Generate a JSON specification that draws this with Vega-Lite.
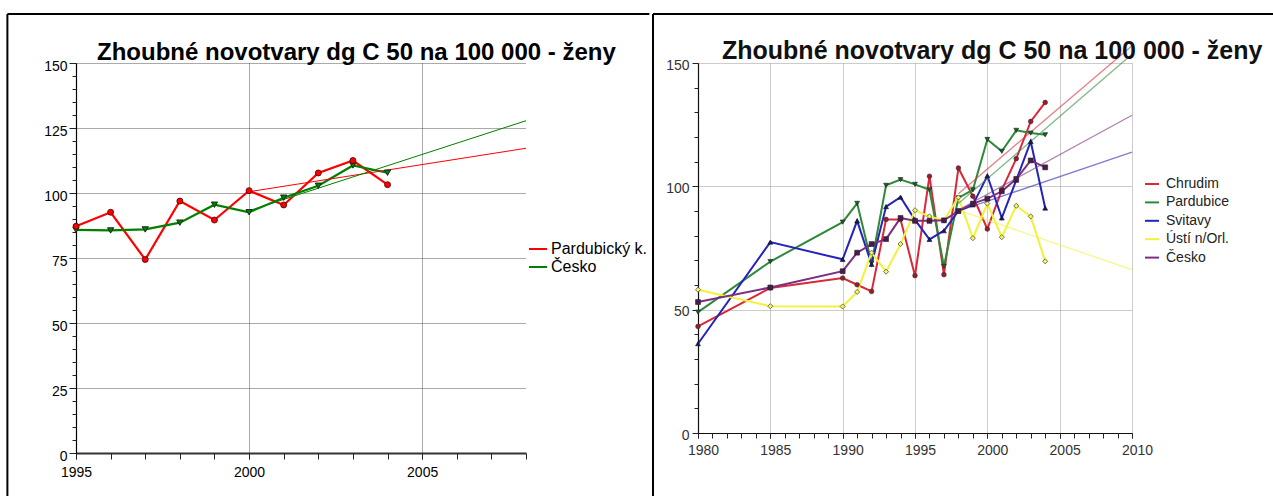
{
  "$schema": "https://vega.github.io/schema/vega-lite/v6.json",
  "background": "white",
  "padding": {"left": 6, "top": 12, "right": 0, "bottom": 0},
  "spacing": 0,
  "resolve": {"scale": {"color": "independent", "shape": "independent"}, "legend": {"color": "independent", "shape": "independent"}},
  "config": {
    "font": "Liberation Sans",
    "view": {"stroke": null},
    "axis": {"labelFont": "Liberation Sans", "labelOverlap": false},
    "legend": {"labelFont": "Liberation Sans"}
  },
  "datasets": {
    "one": [{"k": 1}],
    "left": [
      {"year": 1995, "series": "Pardubický k.", "value": 87.2},
      {"year": 1996, "series": "Pardubický k.", "value": 92.6},
      {"year": 1997, "series": "Pardubický k.", "value": 74.4},
      {"year": 1998, "series": "Pardubický k.", "value": 96.9},
      {"year": 1999, "series": "Pardubický k.", "value": 89.6},
      {"year": 2000, "series": "Pardubický k.", "value": 100.9},
      {"year": 2001, "series": "Pardubický k.", "value": 95.4},
      {"year": 2002, "series": "Pardubický k.", "value": 107.7},
      {"year": 2003, "series": "Pardubický k.", "value": 112.5},
      {"year": 2004, "series": "Pardubický k.", "value": 103.2},
      {"year": 1995, "series": "Česko", "value": 85.8},
      {"year": 1996, "series": "Česko", "value": 85.6},
      {"year": 1997, "series": "Česko", "value": 86.0},
      {"year": 1998, "series": "Česko", "value": 88.6},
      {"year": 1999, "series": "Česko", "value": 95.5},
      {"year": 2000, "series": "Česko", "value": 92.6},
      {"year": 2001, "series": "Česko", "value": 98.2},
      {"year": 2002, "series": "Česko", "value": 102.8},
      {"year": 2003, "series": "Česko", "value": 110.6},
      {"year": 2004, "series": "Česko", "value": 107.8}
    ],
    "left_trend": [
      {"year": 2000, "series": "Pardubický k.", "value": 100.5},
      {"year": 2008, "series": "Pardubický k.", "value": 117.2},
      {"year": 2000, "series": "Česko", "value": 93.2},
      {"year": 2008, "series": "Česko", "value": 127.8}
    ],
    "right": [
      {"year": 1980, "series": "Chrudim", "value": 43.2},
      {"year": 1985, "series": "Chrudim", "value": 58.8},
      {"year": 1990, "series": "Chrudim", "value": 62.8},
      {"year": 1991, "series": "Chrudim", "value": 60.1},
      {"year": 1992, "series": "Chrudim", "value": 57.4},
      {"year": 1993, "series": "Chrudim", "value": 86.6},
      {"year": 1994, "series": "Chrudim", "value": 86.6},
      {"year": 1995, "series": "Chrudim", "value": 63.8},
      {"year": 1996, "series": "Chrudim", "value": 104.1},
      {"year": 1997, "series": "Chrudim", "value": 64.2},
      {"year": 1998, "series": "Chrudim", "value": 107.4},
      {"year": 1999, "series": "Chrudim", "value": 96.0},
      {"year": 2000, "series": "Chrudim", "value": 82.7},
      {"year": 2001, "series": "Chrudim", "value": 98.6},
      {"year": 2002, "series": "Chrudim", "value": 111.2},
      {"year": 2003, "series": "Chrudim", "value": 126.3},
      {"year": 2004, "series": "Chrudim", "value": 134.0},
      {"year": 1980, "series": "Pardubice", "value": 49.0},
      {"year": 1985, "series": "Pardubice", "value": 69.5},
      {"year": 1990, "series": "Pardubice", "value": 85.5},
      {"year": 1991, "series": "Pardubice", "value": 93.1},
      {"year": 1992, "series": "Pardubice", "value": 68.9},
      {"year": 1993, "series": "Pardubice", "value": 100.4},
      {"year": 1994, "series": "Pardubice", "value": 102.7},
      {"year": 1995, "series": "Pardubice", "value": 100.8},
      {"year": 1996, "series": "Pardubice", "value": 98.6},
      {"year": 1997, "series": "Pardubice", "value": 67.6},
      {"year": 1998, "series": "Pardubice", "value": 95.3},
      {"year": 1999, "series": "Pardubice", "value": 98.6},
      {"year": 2000, "series": "Pardubice", "value": 119.0},
      {"year": 2001, "series": "Pardubice", "value": 114.2},
      {"year": 2002, "series": "Pardubice", "value": 122.7},
      {"year": 2003, "series": "Pardubice", "value": 121.6},
      {"year": 2004, "series": "Pardubice", "value": 120.9},
      {"year": 1980, "series": "Svitavy", "value": 36.2},
      {"year": 1985, "series": "Svitavy", "value": 77.4},
      {"year": 1990, "series": "Svitavy", "value": 70.4},
      {"year": 1991, "series": "Svitavy", "value": 86.0},
      {"year": 1992, "series": "Svitavy", "value": 68.4},
      {"year": 1993, "series": "Svitavy", "value": 91.8},
      {"year": 1994, "series": "Svitavy", "value": 95.6},
      {"year": 1995, "series": "Svitavy", "value": 86.4},
      {"year": 1996, "series": "Svitavy", "value": 78.5},
      {"year": 1997, "series": "Svitavy", "value": 82.0},
      {"year": 1998, "series": "Svitavy", "value": 90.0},
      {"year": 1999, "series": "Svitavy", "value": 92.5},
      {"year": 2000, "series": "Svitavy", "value": 104.3},
      {"year": 2001, "series": "Svitavy", "value": 87.2},
      {"year": 2002, "series": "Svitavy", "value": 102.5},
      {"year": 2003, "series": "Svitavy", "value": 118.2},
      {"year": 2004, "series": "Svitavy", "value": 91.2},
      {"year": 1980, "series": "Ústí n/Orl.", "value": 58.1},
      {"year": 1985, "series": "Ústí n/Orl.", "value": 51.4},
      {"year": 1990, "series": "Ústí n/Orl.", "value": 51.3},
      {"year": 1991, "series": "Ústí n/Orl.", "value": 57.2},
      {"year": 1992, "series": "Ústí n/Orl.", "value": 73.1},
      {"year": 1993, "series": "Ústí n/Orl.", "value": 65.4},
      {"year": 1994, "series": "Ústí n/Orl.", "value": 76.6},
      {"year": 1995, "series": "Ústí n/Orl.", "value": 90.3},
      {"year": 1996, "series": "Ústí n/Orl.", "value": 87.8},
      {"year": 1997, "series": "Ústí n/Orl.", "value": 86.2},
      {"year": 1998, "series": "Ústí n/Orl.", "value": 95.5},
      {"year": 1999, "series": "Ústí n/Orl.", "value": 79.0},
      {"year": 2000, "series": "Ústí n/Orl.", "value": 93.0},
      {"year": 2001, "series": "Ústí n/Orl.", "value": 79.4},
      {"year": 2002, "series": "Ústí n/Orl.", "value": 92.1},
      {"year": 2003, "series": "Ústí n/Orl.", "value": 87.8},
      {"year": 2004, "series": "Ústí n/Orl.", "value": 69.6},
      {"year": 1980, "series": "Česko", "value": 53.1},
      {"year": 1985, "series": "Česko", "value": 59.0},
      {"year": 1990, "series": "Česko", "value": 65.6},
      {"year": 1991, "series": "Česko", "value": 73.1},
      {"year": 1992, "series": "Česko", "value": 76.6},
      {"year": 1993, "series": "Česko", "value": 78.6},
      {"year": 1994, "series": "Česko", "value": 87.2},
      {"year": 1995, "series": "Česko", "value": 86.0},
      {"year": 1996, "series": "Česko", "value": 86.0},
      {"year": 1997, "series": "Česko", "value": 86.2},
      {"year": 1998, "series": "Česko", "value": 90.0},
      {"year": 1999, "series": "Česko", "value": 93.0},
      {"year": 2000, "series": "Česko", "value": 95.0},
      {"year": 2001, "series": "Česko", "value": 98.0},
      {"year": 2002, "series": "Česko", "value": 103.0},
      {"year": 2003, "series": "Česko", "value": 110.5},
      {"year": 2004, "series": "Česko", "value": 107.7}
    ],
    "right_trend": [
      {"year": 1998, "series": "Chrudim", "value": 97.0},
      {"year": 2010, "series": "Chrudim", "value": 157.0},
      {"year": 1998, "series": "Pardubice", "value": 93.0},
      {"year": 2010, "series": "Pardubice", "value": 153.5},
      {"year": 1998, "series": "Svitavy", "value": 90.0},
      {"year": 2010, "series": "Svitavy", "value": 113.9},
      {"year": 1998, "series": "Ústí n/Orl.", "value": 90.4},
      {"year": 2010, "series": "Ústí n/Orl.", "value": 66.2},
      {"year": 1998, "series": "Česko", "value": 90.4},
      {"year": 2010, "series": "Česko", "value": 128.8}
    ]
  },
  "hconcat": [
    {
      "width": 450,
      "height": 390,
      "title": {"text": "Zhoubné novotvary dg C 50 na 100 000 - ženy", "frame": "group", "anchor": "start", "dx": 21, "dy": 71, "offset": 0, "baseline": "alphabetic", "fontSize": 24, "font": "Liberation Sans", "fontWeight": "bold", "color": "black"},
      "resolve": {"axis": {"x": "independent", "y": "independent"}},
      "layer": [
        {
          "data": {"name": "left"},
          "mark": {"type": "line", "strokeWidth": 2.2},
          "encoding": {
            "x": {"field": "year", "type": "quantitative", "scale": {"domain": [1995, 2008], "nice": false, "zero": false},
              "axis": {"title": null, "orient": "bottom", "values": [1995, 2000, 2005], "format": "d", "labelFlush": false,
                "grid": true, "gridColor": "#555555", "gridDash": [1, 1],
                "tickSize": 6, "tickColor": "#222", "domainColor": "#333", "domainWidth": 2, "labelFontSize": 14, "labelColor": "#000", "labelPadding": 6}},
            "y": {"field": "value", "type": "quantitative", "scale": {"domain": [0, 150], "nice": false},
              "axis": {"title": null, "orient": "left", "values": [0, 25, 50, 75, 100, 125, 150], "labelFlush": false,
                "grid": true, "gridColor": "#555555", "gridDash": [1, 1],
                "tickSize": 7, "tickColor": "#222",
                "domainColor": "#000", "domainWidth": 1.2, "labelFontSize": 14, "labelColor": "#000", "labelPadding": 2, "labelOffset": 3}},
            "color": {"field": "series", "type": "nominal", "scale": {"domain": ["Pardubický k.", "Česko"], "range": ["#ff0000", "#008000"]},
              "legend": {"orient": "none", "legendX": 452, "legendY": 176, "title": null, "symbolType": "stroke", "symbolSize": 324, "symbolStrokeWidth": 2,
                "labelFontSize": 16, "labelColor": "#000", "labelOffset": 3, "rowPadding": 0, "labelLimit": 300}}
          }
        },
        {
          "data": {"name": "left_trend"},
          "mark": {"type": "line", "strokeWidth": 1},
          "encoding": {
            "x": {"field": "year", "type": "quantitative",
              "axis": {"title": null, "orient": "bottom", "values": [1995, 1996, 1997, 1998, 1999, 2000, 2001, 2002, 2003, 2004, 2005, 2006, 2007, 2008],
                "labels": false, "grid": false, "domain": false, "tickSize": 6, "tickColor": "#222"}},
            "y": {"field": "value", "type": "quantitative",
              "axis": {"title": null, "orient": "left", "values": [5, 10, 15, 20, 30, 35, 40, 45, 55, 60, 65, 70, 80, 85, 90, 95, 105, 110, 115, 120, 130, 135, 140, 145],
                "labels": false, "grid": false, "domain": false, "tickSize": 4, "tickColor": "#222"}},
            "color": {"field": "series", "type": "nominal", "legend": null}
          }
        },
        {
          "data": {"name": "one"},
          "mark": {"type": "rule", "color": "black", "strokeWidth": 2, "clip": false},
          "encoding": {
            "x": {"datum": 1993.018, "type": "quantitative", "axis": null},
            "y": {"datum": 168.85, "type": "quantitative", "axis": null},
            "y2": {"datum": -16.54}
          }
        },
        {
          "data": {"name": "one"},
          "mark": {"type": "rule", "color": "black", "strokeWidth": 2, "clip": false},
          "encoding": {
            "x": {"datum": 1993.018, "type": "quantitative", "axis": null},
            "x2": {"datum": 2011.565},
            "y": {"datum": 168.85, "type": "quantitative", "axis": null}
          }
        },
        {
          "data": {"name": "left"},
          "transform": [{"filter": "datum.series === 'Česko'"}],
          "mark": {"type": "point", "shape": "triangle-down", "filled": true, "fill": "#008000", "stroke": "#111", "strokeWidth": 0.8, "opacity": 1, "size": 40},
          "encoding": {
            "x": {"field": "year", "type": "quantitative", "axis": null},
            "y": {"field": "value", "type": "quantitative", "axis": null}
          }
        },
        {
          "data": {"name": "left"},
          "transform": [{"filter": "datum.series === 'Pardubický k.'"}],
          "mark": {"type": "point", "shape": "circle", "filled": true, "fill": "#ff0000", "stroke": "#440000", "strokeWidth": 0.8, "opacity": 1, "size": 36},
          "encoding": {
            "x": {"field": "year", "type": "quantitative", "axis": null},
            "y": {"field": "value", "type": "quantitative", "axis": null}
          }
        }
      ]
    },
    {
      "width": 434,
      "height": 370,
      "title": {"text": "Zhoubné novotvary dg C 50 na 100 000 - ženy", "frame": "group", "anchor": "start", "dx": 24, "dy": 71, "offset": 0, "baseline": "alphabetic", "fontSize": 25, "font": "Liberation Sans", "fontWeight": "bold", "color": "#111"},
      "resolve": {"axis": {"x": "independent", "y": "independent"}},
      "layer": [
        {
          "data": {"name": "right"},
          "mark": {"type": "line", "strokeWidth": 2},
          "encoding": {
            "x": {"field": "year", "type": "quantitative", "scale": {"domain": [1980, 2010], "nice": false, "zero": false},
              "axis": {"title": null, "orient": "bottom", "values": [1980, 1985, 1990, 1995, 2000, 2005, 2010], "format": "d", "labelFlush": false,
                "grid": true, "gridColor": "#999999", "gridDash": [1, 1],
                "tickSize": 5, "tickColor": "#222", "domainColor": "#111", "domainWidth": 1.2, "labelFontSize": 14, "labelColor": "#333", "labelPadding": 5, "labelOffset": 5}},
            "y": {"field": "value", "type": "quantitative", "scale": {"domain": [0, 150], "nice": false},
              "axis": {"title": null, "orient": "left", "values": [0, 50, 100, 150], "labelFlush": false,
                "grid": true, "gridColor": "#999999", "gridDash": [1, 1],
                "tickSize": 6, "tickColor": "#222",
                "domainColor": "#111", "domainWidth": 1.2, "labelFontSize": 14, "labelColor": "#333", "labelPadding": 3, "labelOffset": 2}},
            "color": {"field": "series", "type": "nominal",
              "scale": {"domain": ["Chrudim", "Pardubice", "Svitavy", "Ústí n/Orl.", "Česko"], "range": ["#d8283a", "#2e8a3a", "#2424b8", "#f2f23a", "#7c2e80"]},
              "legend": {"orient": "none", "legendX": 446, "legendY": 113, "title": null, "symbolType": "stroke", "symbolSize": 196, "symbolStrokeWidth": 2,
                "labelFontSize": 14, "labelColor": "#222", "labelBaseline": "middle", "labelOffset": 6, "rowPadding": 3.4, "labelLimit": 300}}
          }
        },
        {
          "data": {"name": "right_trend"},
          "mark": {"type": "line", "strokeWidth": 1.3, "opacity": 0.6},
          "encoding": {
            "x": {"field": "year", "type": "quantitative",
              "axis": {"title": null, "orient": "bottom", "values": [1980, 1981, 1982, 1983, 1984, 1985, 1986, 1987, 1988, 1989, 1990, 1991, 1992, 1993, 1994, 1995, 1996, 1997, 1998, 1999, 2000, 2001, 2002, 2003, 2004, 2005, 2006, 2007, 2008, 2009, 2010],
                "labels": false, "grid": false, "domain": false, "tickSize": 5, "tickColor": "#222"}},
            "y": {"field": "value", "type": "quantitative",
              "axis": {"title": null, "orient": "left", "values": [10, 20, 30, 40, 60, 70, 80, 90, 110, 120, 130, 140],
                "labels": false, "grid": false, "domain": false, "tickSize": 4, "tickColor": "#222"}},
            "color": {"field": "series", "type": "nominal", "legend": null}
          }
        },
        {
          "data": {"name": "one"},
          "mark": {"type": "rule", "color": "black", "strokeWidth": 2, "clip": false},
          "encoding": {
            "x": {"datum": 1976.889, "type": "quantitative", "axis": null},
            "y": {"datum": 169.86, "type": "quantitative", "axis": null},
            "y2": {"datum": -25.54}
          }
        },
        {
          "data": {"name": "one"},
          "mark": {"type": "rule", "color": "black", "strokeWidth": 2, "clip": false},
          "encoding": {
            "x": {"datum": 1976.889, "type": "quantitative", "axis": null},
            "x2": {"datum": 2019.75},
            "y": {"datum": 169.86, "type": "quantitative", "axis": null}
          }
        },
        {
          "data": {"name": "right"},
          "transform": [{"filter": "datum.series === 'Chrudim'"}],
          "mark": {"type": "point", "shape": "circle", "filled": true, "fill": "#9a1c28", "stroke": "#333", "strokeWidth": 0.6, "opacity": 1, "size": 22},
          "encoding": {"x": {"field": "year", "type": "quantitative", "axis": null}, "y": {"field": "value", "type": "quantitative", "axis": null}}
        },
        {
          "data": {"name": "right"},
          "transform": [{"filter": "datum.series === 'Pardubice'"}],
          "mark": {"type": "point", "shape": "triangle-down", "filled": true, "fill": "#1f5a28", "stroke": "#222", "strokeWidth": 0.6, "opacity": 1, "size": 24},
          "encoding": {"x": {"field": "year", "type": "quantitative", "axis": null}, "y": {"field": "value", "type": "quantitative", "axis": null}}
        },
        {
          "data": {"name": "right"},
          "transform": [{"filter": "datum.series === 'Svitavy'"}],
          "mark": {"type": "point", "shape": "triangle-up", "filled": true, "fill": "#18186e", "stroke": "#111", "strokeWidth": 0.6, "opacity": 1, "size": 24},
          "encoding": {"x": {"field": "year", "type": "quantitative", "axis": null}, "y": {"field": "value", "type": "quantitative", "axis": null}}
        },
        {
          "data": {"name": "right"},
          "transform": [{"filter": "datum.series === 'Ústí n/Orl.'"}],
          "mark": {"type": "point", "shape": "diamond", "filled": true, "fill": "#f2f27a", "stroke": "#555522", "strokeWidth": 0.8, "opacity": 1, "size": 26},
          "encoding": {"x": {"field": "year", "type": "quantitative", "axis": null}, "y": {"field": "value", "type": "quantitative", "axis": null}}
        },
        {
          "data": {"name": "right"},
          "transform": [{"filter": "datum.series === 'Česko'"}],
          "mark": {"type": "point", "shape": "square", "filled": true, "fill": "#4a1a4e", "stroke": "#222", "strokeWidth": 0.6, "opacity": 1, "size": 24},
          "encoding": {"x": {"field": "year", "type": "quantitative", "axis": null}, "y": {"field": "value", "type": "quantitative", "axis": null}}
        }
      ]
    }
  ]
}
